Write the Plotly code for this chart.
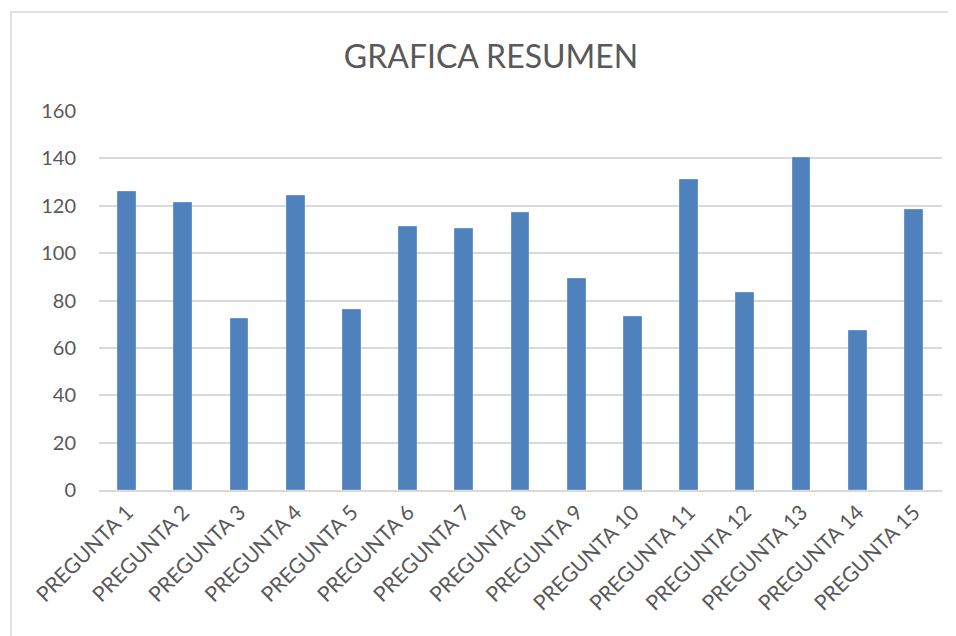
import plotly.graph_objects as go

categories = [f"PREGUNTA {i}" for i in range(1, 16)]
values = [126, 121, 72, 124, 76, 111, 110, 117, 89, 73, 131, 83, 140, 67, 118]
y_ticks = [0, 20, 40, 60, 80, 100, 120, 140, 160]

OFF = 8  # default page body margin
W, H = 956 - OFF, 636 - OFF
L, T = 99 - OFF, 111 - OFF
PW, PH = 843, 379
R, B = W - L - PW, H - T - PH

fig = go.Figure()
fig.add_trace(go.Bar(
    x=categories, y=values, width=0.315,
    marker=dict(color="#4F81BD", line=dict(color="#6A95C9", width=1)),
))

fig.update_layout(
    width=W, height=H,
    margin=dict(l=L, r=R, t=T, b=B),
    paper_bgcolor="white", plot_bgcolor="white",
    showlegend=False,
    font=dict(family="Lato", color="#595959"),
    title=dict(text="GRAFICA RESUMEN", x=(491 - OFF) / W, xanchor="center",
               y=1 - (57 - OFF) / H, yanchor="middle",
               font=dict(family="Lato", size=32, color="#595959")),
    bargap=0,
)
fig.update_xaxes(
    tickangle=-45, tickfont=dict(size=21, color="#595959"),
    showline=True, linecolor="#D9D9D9", linewidth=1.5,
    showgrid=False, ticks="",
)
fig.update_yaxes(
    range=[0, 160], tickvals=y_ticks, tickfont=dict(size=20, color="#595959"),
    showgrid=True, gridcolor="#D9D9D9", gridwidth=1.5,
    zeroline=False, showline=False, ticks="", ticklabelstandoff=22,
)
fig.add_shape(type="rect", xref="paper", yref="paper",
              x0=(11 - OFF - L) / PW, x1=(W + 20 - L) / PW,
              y0=(T + PH - (H + 20)) / PH, y1=(T + PH - (12 - OFF)) / PH,
              line=dict(color="#D9D9D9", width=1.5), fillcolor="rgba(0,0,0,0)", layer="below")

fig.write_html("out.html")
